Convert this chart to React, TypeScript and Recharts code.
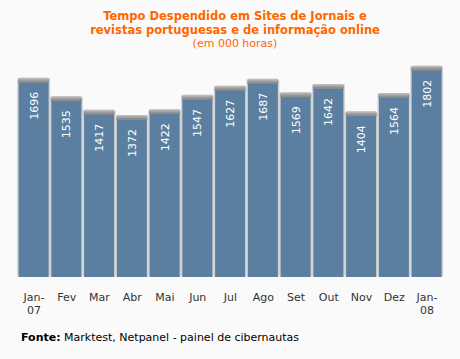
import React from 'react';
import { BarChart, Bar, XAxis, YAxis, LabelList } from 'recharts';

const months = ['Jan-\n07', 'Fev', 'Mar', 'Abr', 'Mai', 'Jun', 'Jul', 'Ago', 'Set', 'Out', 'Nov', 'Dez', 'Jan-\n08'];
const hours = [1696, 1535, 1417, 1372, 1422, 1547, 1627, 1687, 1569, 1642, 1404, 1564, 1802];

const chartData = months.map((m, i) => ({ month: m, value: hours[i] }));

const barColor = '#5a7fa0';
const font = '"DejaVu Sans", Verdana, sans-serif';

const BarWithShadow = (props: any) => {
    const { x, y, width, height } = props;
    return (
        <g>
            <rect x={x - 1.5} y={y - 5} width={width + 3} height={height + 5} rx={2} fill="#d2d2d2" />
            <rect x={x - 0.5} y={y - 5} width={width + 1} height={6} rx={2} fill="url(#topShade)" />
            <rect x={x} y={y} width={width} height={height} fill={barColor} />
        </g>
    );
};

const ValueLabel = (props: any) => {
    const { x, y, width, value } = props;
    const cx = x + width / 2;
    const cy = y + 9;
    return (
        <text
            x={cx}
            y={cy}
            dy="0.36em"
            transform={`rotate(-90 ${cx} ${cy})`}
            textAnchor="end"
            fill="#ffffff"
            fontSize={11}
            fontFamily={font}
        >
            {value}
        </text>
    );
};

const MonthTick = (props: any) => {
    const { x, payload } = props;
    const lines = String(payload.value).split('\n');
    return (
        <g>
            {lines.map((l, i) => (
                <text
                    key={i}
                    x={x}
                    y={301 + i * 13}
                    textAnchor="middle"
                    fill="#333333"
                    fontSize={11}
                    fontFamily={font}
                >
                    {l}
                </text>
            ))}
        </g>
    );
};

export default function App() {
    return (
        <div style={{ position: 'absolute', left: 0, top: 0, width: 460, height: 359, background: '#fafafa', fontFamily: font }}>
            <div style={{ position: 'absolute', top: 9, left: 0, width: 470, textAlign: 'center', color: '#ff6600', fontSize: 11.5, lineHeight: '14px' }}>
                <div style={{ fontWeight: 'bold' }}>Tempo Despendido em Sites de Jornais e</div>
                <div style={{ fontWeight: 'bold' }}>revistas portuguesas e de informação online</div>
                <div style={{ fontSize: 11 }}>(em 000 horas)</div>
            </div>
            <BarChart
                width={460}
                height={359}
                data={chartData}
                margin={{ top: 48, right: 16.6, left: 17.6, bottom: 42 }}
                barSize={30}
            >
                <defs>
                    <linearGradient id="topShade" x1="0" y1="0" x2="0" y2="1">
                        <stop offset="0%" stopColor="#c4c4c4" />
                        <stop offset="60%" stopColor="#8f8f8f" />
                        <stop offset="100%" stopColor="#8a8a8a" />
                    </linearGradient>
                </defs>
                <XAxis
                    dataKey="month"
                    axisLine={false}
                    tickLine={false}
                    interval={0}
                    height={40}
                    tick={<MonthTick />}
                />
                <YAxis hide domain={[0, 2000]} />
                <Bar dataKey="value" fill={barColor} shape={<BarWithShadow />} isAnimationActive={false}>
                    <LabelList dataKey="value" content={<ValueLabel />} />
                </Bar>
            </BarChart>
            <div style={{ position: 'absolute', left: 21, top: 331, fontSize: 11, color: '#000' }}>
                <b>Fonte:</b> Marktest, Netpanel - painel de cibernautas
            </div>
        </div>
    );
}
